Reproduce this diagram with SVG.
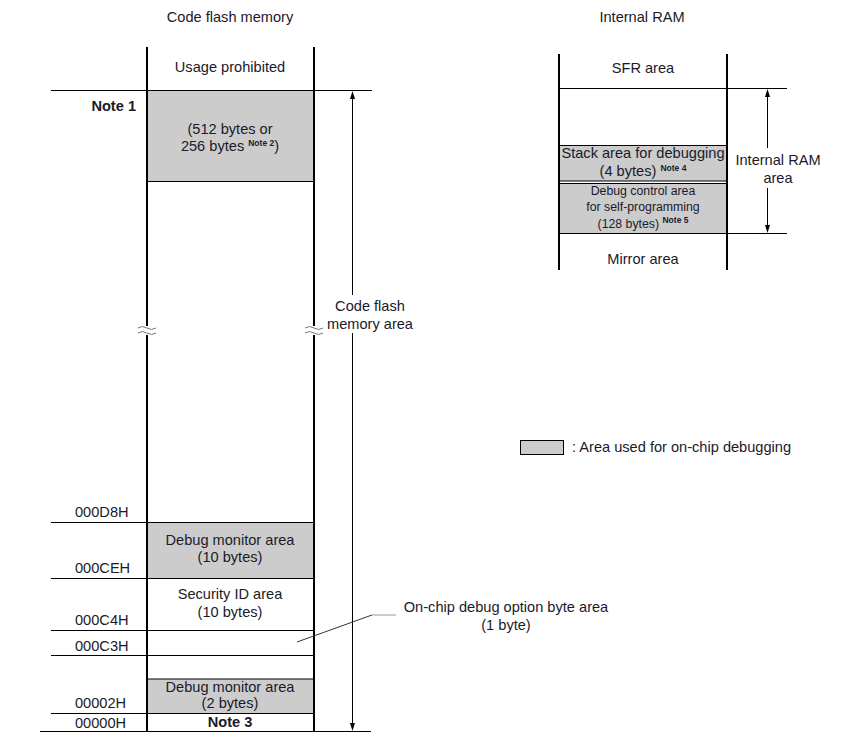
<svg xmlns="http://www.w3.org/2000/svg" width="854" height="741" viewBox="0 0 854 741">
<style>
text{font-family:"Liberation Sans",Arial,sans-serif;font-size:14.6px;fill:#1a1a2a}
.c{text-anchor:middle}
.b{font-weight:bold}
.s{font-size:12.3px}
.sup{font-size:8.5px;font-weight:bold}
.thin{stroke:#000;stroke-width:1;fill:none}
.thick{stroke:#000;stroke-width:2;fill:none}
.gray{fill:#cccccc}
.ah{fill:#000}
</style>
<rect width="854" height="741" fill="#fff"/>

<text class="c" x="230" y="22">Code flash memory</text>
<text class="c" x="642" y="22">Internal RAM</text>

<g id="code-flash">
<rect class="gray" x="147" y="90.5" width="167" height="91"/>
<rect class="gray" x="147" y="522.5" width="167" height="56"/>
<rect class="gray" x="147" y="679" width="167" height="34"/>
<line class="thin" x1="51" y1="90.5" x2="372" y2="90.5"/>
<line class="thin" x1="147" y1="181.5" x2="314" y2="181.5"/>
<line class="thin" x1="51" y1="522.5" x2="314" y2="522.5"/>
<line class="thin" x1="51" y1="578.5" x2="314" y2="578.5"/>
<line class="thin" x1="51" y1="630.5" x2="314" y2="630.5"/>
<line class="thin" x1="51" y1="655.5" x2="314" y2="655.5"/>
<line class="thin" x1="147" y1="679" x2="314" y2="679"/>
<line class="thin" x1="51" y1="713.5" x2="314" y2="713.5"/>
<line class="thin" x1="40" y1="731.5" x2="371" y2="731.5"/>
<line class="thick" x1="147" y1="47" x2="147" y2="326"/>
<line class="thick" x1="147" y1="335" x2="147" y2="732"/>
<line class="thick" x1="314" y1="47" x2="314" y2="326"/>
<line class="thick" x1="314" y1="335" x2="314" y2="732"/>
<path d="M138,328 q4.5,-3 9,0 t9,0 M138,333 q4.5,-3 9,0 t9,0" stroke="#777" stroke-width="1" fill="none"/>
<path d="M305,328 q4.5,-3 9,0 t9,0 M305,333 q4.5,-3 9,0 t9,0" stroke="#777" stroke-width="1" fill="none"/>
<text class="c" x="230" y="72">Usage prohibited</text>
<text class="b" x="136" y="111" text-anchor="end">Note 1</text>
<text class="c" x="230" y="134">(512 bytes or</text>
<text class="c" x="230" y="151">256 bytes <tspan class="sup" dy="-5">Note 2</tspan><tspan dy="5">)</tspan></text>
<text x="75" y="517">000D8H</text>
<text x="75" y="573">000CEH</text>
<text x="75" y="625">000C4H</text>
<text x="75" y="651">000C3H</text>
<text x="75" y="708">00002H</text>
<text x="75" y="728">00000H</text>
<text class="c" x="230" y="545">Debug monitor area</text>
<text class="c" x="230" y="562">(10 bytes)</text>
<text class="c" x="230" y="599">Security ID area</text>
<text class="c" x="230" y="617">(10 bytes)</text>
<text class="c" x="230" y="692">Debug monitor area</text>
<text class="c" x="230" y="708">(2 bytes)</text>
<text class="c b" x="230" y="727">Note 3</text>
</g>

<g id="internal-ram">
<rect class="gray" x="559" y="145.5" width="168" height="35.5"/>
<rect class="gray" x="559" y="183.5" width="168" height="50"/>
<line class="thin" x1="559" y1="88.5" x2="787" y2="88.5"/>
<line class="thin" x1="559" y1="145.5" x2="727" y2="145.5"/>
<line class="thin" x1="559" y1="181" x2="727" y2="181"/>
<line class="thin" x1="559" y1="183.5" x2="727" y2="183.5"/>
<line class="thin" x1="559" y1="233.5" x2="787" y2="233.5"/>
<line class="thick" x1="559" y1="54" x2="559" y2="270"/>
<line class="thick" x1="727" y1="54" x2="727" y2="270"/>
<text class="c" x="643" y="158">Stack area for debugging</text>
<text class="c" x="643" y="73">SFR area</text>
<text class="c" x="643" y="176">(4 bytes) <tspan class="sup" dy="-5">Note 4</tspan></text>
<text class="c s" x="643" y="195">Debug control area</text>
<text class="c s" x="643" y="211">for self-programming</text>
<text class="c s" x="643" y="228">(128 bytes) <tspan class="sup" dy="-5">Note 5</tspan></text>
<text class="c" x="643" y="264">Mirror area</text>
</g>

<g id="connectors">
<line class="thin" x1="352.5" y1="97" x2="352.5" y2="725"/>
<polygon class="ah" points="352.5,91 350,99 355,99"/>
<polygon class="ah" points="352.5,731 350,723 355,723"/>
<line class="thin" x1="767.5" y1="95" x2="767.5" y2="148"/>
<polygon class="ah" points="767.5,89 765,97 770,97"/>
<line class="thin" x1="767.5" y1="188" x2="767.5" y2="227"/>
<polygon class="ah" points="767.5,233 765,225 770,225"/>
<polyline points="297,642 372,615" stroke="#333" stroke-width="1" fill="none"/>
<line x1="372" y1="615" x2="396" y2="615" stroke="#999" stroke-width="1"/>
</g>

<g id="labels">
<rect x="330" y="295" width="86" height="38" fill="#fff"/>
<text class="c" x="370" y="311">Code flash</text>
<text class="c" x="370" y="329">memory area</text>
<text class="c" x="778" y="165">Internal RAM</text>
<text class="c" x="778" y="183">area</text>
<text class="c" x="506" y="612">On-chip debug option byte area</text>
<text class="c" x="506" y="630">(1 byte)</text>
</g>

<g id="legend">
<rect class="gray" x="520.5" y="440.5" width="43" height="14" stroke="#000" stroke-width="1"/>
<text x="572" y="452">: Area used for on-chip debugging</text>
</g>
</svg>
